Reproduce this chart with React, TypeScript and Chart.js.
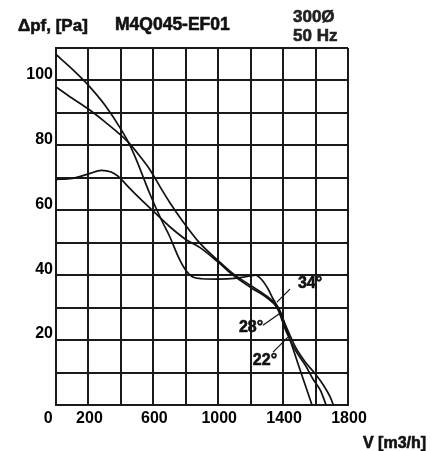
import React, { useEffect, useRef } from "react";
import { Chart, registerables } from "chart.js";

Chart.register(...registerables);

// ---- data ----
const curve34Flow = [0, 100, 210, 300, 445, 520, 579, 650, 700, 783, 888, 1000, 1091, 1200, 1300, 1362, 1420, 1480, 1540, 1600, 1650, 1690, 1710];
const curve34Pressure = [98, 94.5, 90.8, 87.3, 81, 76.5, 72.5, 66.5, 62.5, 56.5, 49.8, 44.5, 40.5, 36.8, 33.5, 30.5, 24, 17.5, 13, 9.5, 6, 2.5, 0];

const curve28Flow = [0, 100, 200, 300, 400, 456, 500, 579, 650, 700, 760, 800, 840, 900, 1000, 1100, 1180, 1230, 1270, 1310, 1340, 1381, 1430, 1500, 1578];
const curve28Pressure = [108, 103.5, 98.5, 92.5, 85, 80, 75, 65, 57, 52, 45, 41.5, 39.5, 38.9, 38.8, 39, 39.6, 40, 38.5, 35.5, 32.5, 29, 22, 11.5, 0];

const curve22Flow = [0, 100, 200, 280, 340, 382, 450, 520, 598, 700, 800, 888, 1000, 1091, 1200, 1300, 1362, 1420, 1480, 1540, 1584, 1630, 1665];
const curve22Pressure = [69.5, 69.8, 71.2, 72.3, 71.8, 70.5, 67, 63.5, 59.8, 55, 51, 48.5, 44, 40, 36.2, 33, 30, 22.5, 16.5, 12, 8, 4.5, 0];

const flowLabelledTicks = [0, 200, 600, 1000, 1400, 1800];
const pressureLabelledTicks = [20, 40, 60, 80, 100];

const angleLabels = ["34°", "28°", "22°"];
const angleLabelFlow = [1566, 1202, 1288];
const angleLabelPressure = [37.5, 23.7, 13.8];
const leaderFromFlow = [1442, 1276, 1338];
const leaderFromPressure = [35.7, 24.6, 16.3];
const leaderToFlow = [1362, 1381, 1430];
const leaderToPressure = [31.7, 28.3, 20.9];

const FONT = '"Liberation Sans", Arial, sans-serif';
const INK = "#111";

const toPoints = (xs: number[], ys: number[]) => xs.map((x, i) => ({ x, y: ys[i] }));

const heavyText = (ctx: CanvasRenderingContext2D, text: string, x: number, y: number) => {
  ctx.strokeText(text, x, y);
  ctx.fillText(text, x, y);
};

const textPlugin = {
  id: "fanTexts",
  afterDatasetsDraw(chart: any) {
    const { ctx, scales } = chart;
    const xs = scales.x;
    const ys = scales.y;
    ctx.save();
    // angle labels with leader lines
    ctx.strokeStyle = INK;
    ctx.lineWidth = 1.2;
    for (let i = 0; i < angleLabels.length; i++) {
      ctx.beginPath();
      ctx.moveTo(xs.getPixelForValue(leaderFromFlow[i]), ys.getPixelForValue(leaderFromPressure[i]));
      ctx.lineTo(xs.getPixelForValue(leaderToFlow[i]), ys.getPixelForValue(leaderToPressure[i]));
      ctx.stroke();
    }
    ctx.fillStyle = INK;
    ctx.lineWidth = 0.6;
    ctx.font = `bold 16px ${FONT}`;
    ctx.textAlign = "center";
    ctx.textBaseline = "middle";
    for (let i = 0; i < angleLabels.length; i++) {
      heavyText(ctx, angleLabels[i], xs.getPixelForValue(angleLabelFlow[i]), ys.getPixelForValue(angleLabelPressure[i]));
    }
    // titles
    ctx.textAlign = "left";
    ctx.textBaseline = "alphabetic";
    ctx.font = `bold 17px ${FONT}`;
    heavyText(ctx, "Δpf, [Pa]", 18, 31);
    ctx.font = `bold 17.5px ${FONT}`;
    heavyText(ctx, "M4Q045-EF01", 115, 30);
    ctx.font = `bold 17px ${FONT}`;
    ctx.fillStyle = "#222";
    ctx.strokeStyle = "#222";
    heavyText(ctx, "300Ø", 293, 22);
    heavyText(ctx, "50 Hz", 293, 41);
    ctx.fillStyle = INK;
    ctx.strokeStyle = INK;
    ctx.font = `bold 16px ${FONT}`;
    heavyText(ctx, "V [m3/h]", 363, 448);
    ctx.restore();
  },
};

export default function App() {
  const ref = useRef<HTMLCanvasElement | null>(null);
  useEffect(() => {
    if (!ref.current) return;
    const lineStyle = {
      borderColor: INK,
      borderWidth: 1.7,
      pointRadius: 0,
      showLine: true,
      fill: false,
      cubicInterpolationMode: "monotone" as const,
    };
    const chart = new Chart(ref.current, {
      type: "scatter",
      data: {
        datasets: [
          { label: "34°", data: toPoints(curve34Flow, curve34Pressure), ...lineStyle },
          { label: "28°", data: toPoints(curve28Flow, curve28Pressure), ...lineStyle },
          { label: "22°", data: toPoints(curve22Flow, curve22Pressure), ...lineStyle },
        ],
      },
      options: {
        animation: false,
        responsive: false,
        layout: { padding: { top: 48, right: 90, left: 0, bottom: 0 } },
        plugins: { legend: { display: false }, tooltip: { enabled: false } },
        scales: {
          x: {
            type: "linear",
            min: 0,
            max: 1800,
            grid: { color: "#1a1a1a", lineWidth: 2, drawTicks: false },
            border: { color: "#1a1a1a", width: 2 },
            ticks: {
              stepSize: 200,
              autoSkip: false,
              maxRotation: 0,
              padding: 4,
              labelOffset: 1,
              color: "#000",
              font: { family: FONT, size: 16, weight: "bold" },
              callback: (v: any) =>
                flowLabelledTicks.includes(Number(v)) ? (Number(v) === 0 ? "0    " : String(v)) : "",
            },
            afterFit: (axis: any) => {
              axis.height = 46;
            },
          },
          y: {
            type: "linear",
            min: 0,
            max: 110,
            grid: { color: "#1a1a1a", lineWidth: 2, drawTicks: false },
            border: { color: "#1a1a1a", width: 2 },
            ticks: {
              stepSize: 10,
              autoSkip: false,
              padding: 3,
              labelOffset: -6,
              color: "#000",
              font: { family: FONT, size: 16, weight: "bold" },
              callback: (v: any) => (pressureLabelledTicks.includes(Number(v)) ? String(v) : ""),
            },
            afterFit: (axis: any) => {
              axis.width = 56;
            },
          },
        },
      },
      plugins: [textPlugin],
    });
    return () => chart.destroy();
  }, []);
  return (
    <div style={{ position: "absolute", left: 0, top: 0, width: 438, height: 451, background: "#fff" }}>
      <canvas ref={ref} width={438} height={451} style={{ display: "block" }} />
    </div>
  );
}
